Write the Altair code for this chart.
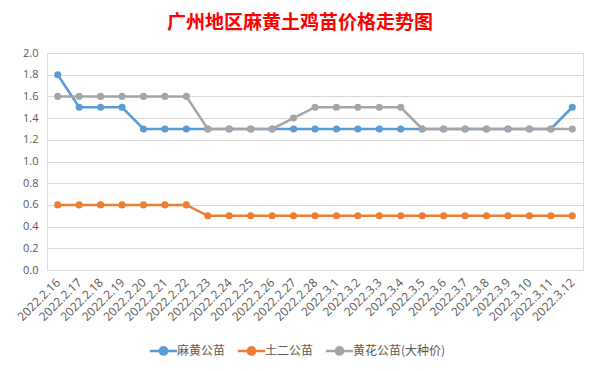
import altair as alt
import pandas as pd

dates = ["2022.2.16", "2022.2.17", "2022.2.18", "2022.2.19", "2022.2.20", "2022.2.21",
         "2022.2.22", "2022.2.23", "2022.2.24", "2022.2.25", "2022.2.26", "2022.2.27",
         "2022.2.28", "2022.3.1", "2022.3.2", "2022.3.3", "2022.3.4", "2022.3.5",
         "2022.3.6", "2022.3.7", "2022.3.8", "2022.3.9", "2022.3.10", "2022.3.11", "2022.3.12"]
series_names = ["麻黄公苗", "土二公苗", "黄花公苗(大种价)"]
mahuang = [1.8, 1.5, 1.5, 1.5, 1.3, 1.3, 1.3, 1.3, 1.3, 1.3, 1.3, 1.3, 1.3,
           1.3, 1.3, 1.3, 1.3, 1.3, 1.3, 1.3, 1.3, 1.3, 1.3, 1.3, 1.5]
tuer = [0.6, 0.6, 0.6, 0.6, 0.6, 0.6, 0.6, 0.5, 0.5, 0.5, 0.5, 0.5, 0.5,
        0.5, 0.5, 0.5, 0.5, 0.5, 0.5, 0.5, 0.5, 0.5, 0.5, 0.5, 0.5]
huanghua = [1.6, 1.6, 1.6, 1.6, 1.6, 1.6, 1.6, 1.3, 1.3, 1.3, 1.3, 1.4, 1.5,
            1.5, 1.5, 1.5, 1.5, 1.3, 1.3, 1.3, 1.3, 1.3, 1.3, 1.3, 1.3]
colors = ["#5B9BD5", "#ED7D31", "#A5A5A5"]

rows = []
for name, vals in zip(series_names, [mahuang, tuer, huanghua]):
    for d, v in zip(dates, vals):
        rows.append({"date": d, "price": v, "series": name, "order": series_names.index(name)})
df = pd.DataFrame(rows)

axis_font = "Open Sans"
cjk_font = "Noto Sans CJK SC"

color = alt.Color(
    "series:N",
    scale=alt.Scale(domain=series_names, range=colors),
    legend=alt.Legend(
        title=None,
        orient="none",
        legendX=106,
        legendY=287,
        direction="horizontal",
        symbolType="M-1.5,0H-0.4M0.4,0H1.5M-0.4,0a0.4,0.4 0 1,0 0.8,0a0.4,0.4 0 1,0 -0.8,0",
        symbolSize=330,
        symbolStrokeWidth=2.5,
        labelFont=cjk_font,
        labelFontSize=12,
        labelColor="#595959",
        columnPadding=6,
        symbolOffset=0,
        labelOffset=3,
    ),
)

base = alt.Chart(df).encode(
    x=alt.X("date:O", sort=dates, title=None,
            axis=alt.Axis(labelAngle=-45, labelAlign="right", labelBaseline="middle",
                          labelFont=axis_font, labelFontSize=12, labelColor="#595959",
                          ticks=False, domainColor="#D9D9D9", labelPadding=10, grid=False)),
    y=alt.Y("price:Q", title=None,
            scale=alt.Scale(domain=[0, 2.0]),
            axis=alt.Axis(values=[0, 0.2, 0.4, 0.6, 0.8, 1.0, 1.2, 1.4, 1.6, 1.8, 2.0],
                          format=".1f", labelFont=axis_font, labelFontSize=11,
                          labelColor="#595959", ticks=False, domain=False,
                          gridColor="#D9D9D9", labelPadding=9)),
    color=color,
    order="order:Q",
)

lines = base.mark_line(strokeWidth=2.5, point=alt.OverlayMarkDef(filled=True, size=50, opacity=1))

chart = lines.properties(
    width=536,
    height=217,
    padding={"left": 39, "top": 45, "right": 9, "bottom": 93},
    autosize=alt.AutoSizeParams(type="none"),
    title=alt.TitleParams("广州地区麻黄土鸡苗价格走势图", font=cjk_font, fontSize=19,
                          fontWeight="bold", color="#FF0000", anchor="middle",
                          offset=14, dx=-15),
).configure_view(stroke=None).configure(background="white")

chart.save("out.html", embed_options={"renderer": "svg", "actions": False})
